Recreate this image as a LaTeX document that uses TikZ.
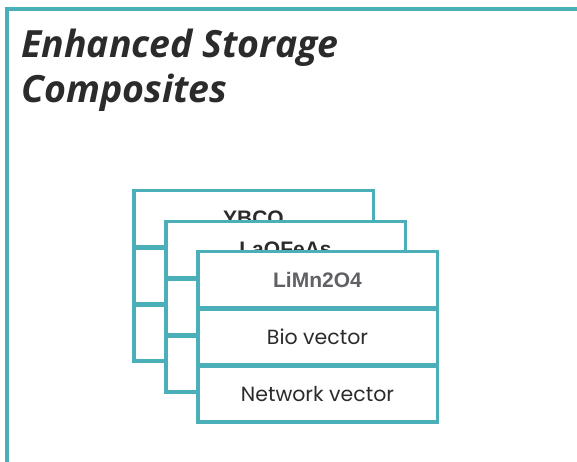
\documentclass[tikz,border=0pt]{standalone}
\usepackage{fontspec}
\usetikzlibrary{positioning}
\newfontfamily\titlefont{Open Sans}
\newfontfamily\rowfont{Poppins}
\newfontfamily\headfont{Liberation Sans}
\definecolor{frameteal}{HTML}{4AAFB9}
\definecolor{titlegray}{HTML}{2B2B2B}
\definecolor{headgray}{HTML}{606066}
\begin{document}
\begin{tikzpicture}[x=1pt, y=-1pt,
    rowbox/.style={draw=frameteal, line width=3.5pt, fill=white, minimum width=239.5pt, minimum height=55.8pt, inner sep=0pt},
    headtext/.style={font=\headfont\bfseries\fontsize{21}{24}\selectfont},
    rowtext/.style={font=\rowfont\fontsize{20.5}{24}\selectfont, text=titlegray}]
    \useasboundingbox (0,0) rectangle (577,461);
    \clip (0,0) rectangle (577,461);
    % outer frame
    \draw[frameteal, line width=3.5pt] (7,470) -- (7,9) -- (590,9);
    \node[anchor=base west, align=left, inner sep=0pt, text=titlegray,
        font=\titlefont\bfseries\itshape\fontsize{37.5}{45}\selectfont] (title) at (21,102)
        {Enhanced Storage\\Composites};
    % back card
    \node[rowbox, headtext, text=titlegray] (ybco) at (253.5,218.6) {YBCO};
    \node[rowbox, below=-2pt of ybco] (ybcomid) {};
    \node[rowbox, below=-2pt of ybcomid] (ybcolow) {};
    % middle card
    \node[rowbox, headtext, text=titlegray] (laofeas) at (285.5,249.6) {LaOFeAs};
    \node[rowbox, below=-2pt of laofeas] (laofeasmid) {};
    \node[rowbox, below=-2pt of laofeasmid] (laofeaslow) {};
    % front card
    \node[rowbox, headtext, text=headgray] (limn) at (317.5,279.6) {LiMn2O4};
    \node[rowbox, rowtext, below=-2pt of limn] (bio) {Bio vector};
    \node[rowbox, rowtext, below=-2pt of bio] (net) {Network vector};
\end{tikzpicture}
\end{document}
